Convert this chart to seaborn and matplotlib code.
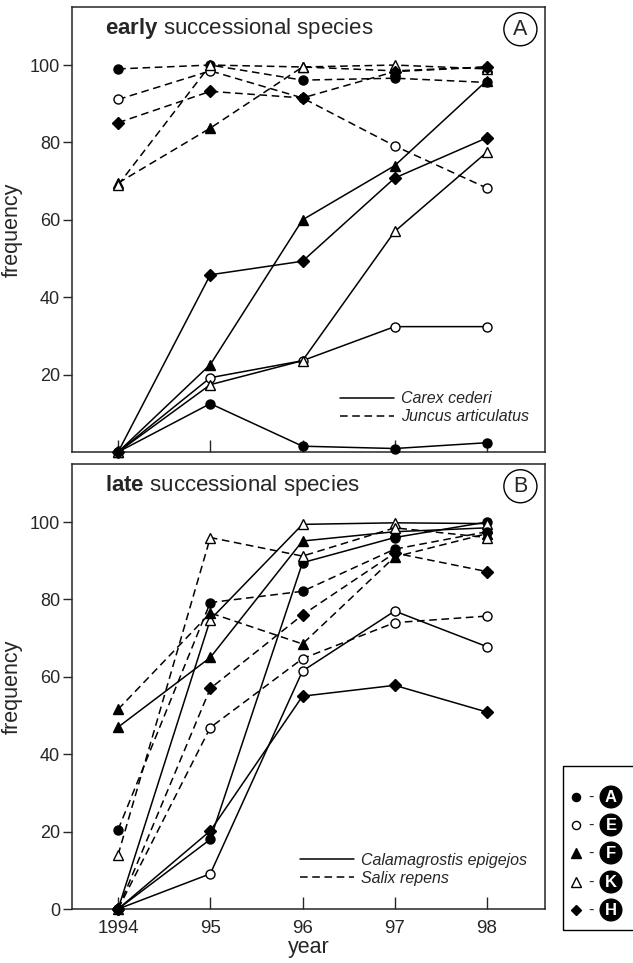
import numpy as np
import pandas as pd
import matplotlib
matplotlib.use("Agg")
import matplotlib.pyplot as plt
import seaborn as sns
from matplotlib.lines import Line2D
from matplotlib.patches import Rectangle

# ---------------- data ----------------
years = [1994, 1995, 1996, 1997, 1998]
year_labels = ["1994", "95", "96", "97", "98"]
sites = ["A", "E", "F", "K", "H"]

# Panel A: early successional species
carex_A = [0, 12.5, 1.5, 0.9, 2.4]
carex_E = [0, 19.2, 23.6, 32.4, 32.4]
carex_F = [0, 22.6, 60.0, 74.0, 96.0]
carex_K = [0, 17.4, 23.6, 57.0, 77.5]
carex_H = [0, 45.8, 49.3, 70.8, 81.2]

juncus_A = [99.0, 100.0, 96.1, 96.6, 95.5]
juncus_E = [91.1, 98.5, 91.5, 79.1, 68.2]
juncus_F = [69.5, 83.7, 99.5, 98.5, 99.5]
juncus_K = [69.0, 100.0, 99.5, 100.0, 99.0]
juncus_H = [85.1, 93.2, 91.5, 98.3, 99.5]

# Panel B: late successional species
calam_A = [0, 18.0, 89.5, 96.0, 100.0]
calam_E = [0, 9.1, 61.5, 77.0, 67.8]
calam_F = [47.0, 65.0, 95.1, 97.5, 98.5]
calam_K = [0, 74.8, 99.4, 99.8, 99.6]
calam_H = [0, 20.2, 55.0, 57.8, 50.9]

salix_A = [20.5, 79.2, 82.1, 93.0, 97.5]
salix_E = [0, 46.9, 64.7, 74.0, 75.7]
salix_F = [51.6, 76.5, 68.5, 91.0, 97.0]
salix_K = [14.0, 96.0, 91.2, 98.5, 96.0]
salix_H = [0, 57.0, 76.0, 92.0, 87.2]

species_early = ["Carex cederi", "Juncus articulatus"]
species_late = ["Calamagrostis epigejos", "Salix repens"]


def long_frame(solid, dashed, names):
    rows = []
    for sp, series in zip(names, [solid, dashed]):
        for site, vals in zip(sites, series):
            for yr, v in zip(years, vals):
                rows.append({"species": sp, "site": site, "year": yr, "freq": v})
    return pd.DataFrame(rows)


df_early = long_frame([carex_A, carex_E, carex_F, carex_K, carex_H],
                      [juncus_A, juncus_E, juncus_F, juncus_K, juncus_H],
                      species_early)
df_late = long_frame([calam_A, calam_E, calam_F, calam_K, calam_H],
                     [salix_A, salix_E, salix_F, salix_K, salix_H],
                     species_late)

# ---------------- style ----------------
sns.set_style("ticks")
plt.rcParams["font.family"] = ["Liberation Sans", "DejaVu Sans"]
plt.rcParams["mathtext.fontset"] = "custom"
plt.rcParams["mathtext.rm"] = "Liberation Sans"
plt.rcParams["mathtext.bf"] = "Liberation Sans:bold"
plt.rcParams["axes.linewidth"] = 1.1

marker_style = {
    "A": dict(marker="o", mfc="black", ms=6.5),
    "E": dict(marker="o", mfc="white", ms=6.5),
    "F": dict(marker="^", mfc="black", ms=7.5),
    "K": dict(marker="^", mfc="white", ms=7.5),
    "H": dict(marker="D", mfc="black", ms=6.0),
}
DASH = (0, (5.0, 3.0))

W, H = 633, 963
fig = plt.figure(figsize=(W / 100, H / 100), dpi=100)


def px_axes(x0, y0, x1, y1):
    return fig.add_axes([x0 / W, 1 - y1 / H, (x1 - x0) / W, (y1 - y0) / H])


axA = px_axes(72, 7, 545, 452)
axB = px_axes(72, 464, 545, 909)


def draw_panel(ax, df, names):
    for i, sp in enumerate(names):
        ls = "-" if i == 0 else DASH
        for site in sites:
            sub = df[(df["species"] == sp) & (df["site"] == site)]
            st = marker_style[site]
            sns.lineplot(data=sub, x="year", y="freq", ax=ax, color="black",
                         linestyle=ls, linewidth=1.1, marker=st["marker"],
                         markersize=st["ms"], markerfacecolor=st["mfc"],
                         markeredgecolor="black", markeredgewidth=1.0,
                         clip_on=False, legend=False, estimator=None,
                         zorder=3)
    ax.set_xlim(1993.5, 1998.63)
    ax.set_ylim(0, 115)
    ax.set_xticks(years)
    ax.tick_params(axis="x", direction="in", length=8.5, width=1.0,
                   labelsize=13.5, pad=8)
    ax.tick_params(axis="y", direction="out", length=6.5, width=1.0,
                   labelsize=13, pad=2)
    for s in ax.spines.values():
        s.set_visible(True)
        s.set_linewidth(1.1)
    ax.set_ylabel("frequency", fontsize=15.5, labelpad=5)
    handles = [Line2D([], [], color="black", lw=1.1, linestyle="-"),
               Line2D([], [], color="black", lw=1.1, linestyle=DASH)]
    return handles


hA = draw_panel(axA, df_early, species_early)
hB = draw_panel(axB, df_late, species_late)

axA.set_yticks([20, 40, 60, 80, 100])
axA.set_xticklabels([])
axA.set_xlabel("")
axB.set_yticks([0, 20, 40, 60, 80, 100])
axB.set_xticklabels(year_labels)
axB.set_xlabel("year", fontsize=15.5, labelpad=0)

leg_kw = dict(frameon=False, handlelength=3.4, handletextpad=0.4,
              labelspacing=0.2, borderpad=0, borderaxespad=0, loc="lower left",
              prop={"family": "Liberation Sans", "style": "italic", "size": 11.5})
axA.legend(hA, species_early, bbox_to_anchor=(0.567, 0.062), **leg_kw)
axB.legend(hB, species_late, bbox_to_anchor=(0.482, 0.052), **leg_kw)

# panel titles
axA.text(0.07, 0.952, r"$\mathbf{early}$ successional species",
         transform=axA.transAxes, fontsize=16, va="center", ha="left")
axB.text(0.07, 0.952, r"$\mathbf{late}$ successional species",
         transform=axB.transAxes, fontsize=16, va="center", ha="left")
for ax, lab in [(axA, "A"), (axB, "B")]:
    ax.text(0.948, 0.95, lab, transform=ax.transAxes, fontsize=15.5,
            ha="center", va="center",
            bbox=dict(boxstyle="circle,pad=0.28", fc="white", ec="black", lw=1.0))

# site key on the right
fig.add_artist(Rectangle((563 / W, 1 - 930 / H), 80 / W, (930 - 766) / H,
                         transform=fig.transFigure, fill=False, ec="black",
                         lw=1.0, clip_on=False))
key_y = [797, 825, 853, 882, 910]
for site, yk in zip(sites, key_y):
    st = marker_style[site]
    fig.add_artist(Line2D([576 / W], [1 - yk / H], transform=fig.transFigure,
                          marker=st["marker"], markersize=st["ms"] * 0.9,
                          markerfacecolor=st["mfc"], markeredgecolor="black",
                          markeredgewidth=1.0, linestyle="none"))
    fig.text(591 / W, 1 - yk / H, "-", fontsize=12, ha="center", va="center")
    fig.text(611 / W, 1 - yk / H, site, fontsize=12, fontweight="bold",
             color="white", ha="center", va="center",
             bbox=dict(boxstyle="circle,pad=0.2", fc="black", ec="black"))

fig.savefig("out.png", dpi=100)
